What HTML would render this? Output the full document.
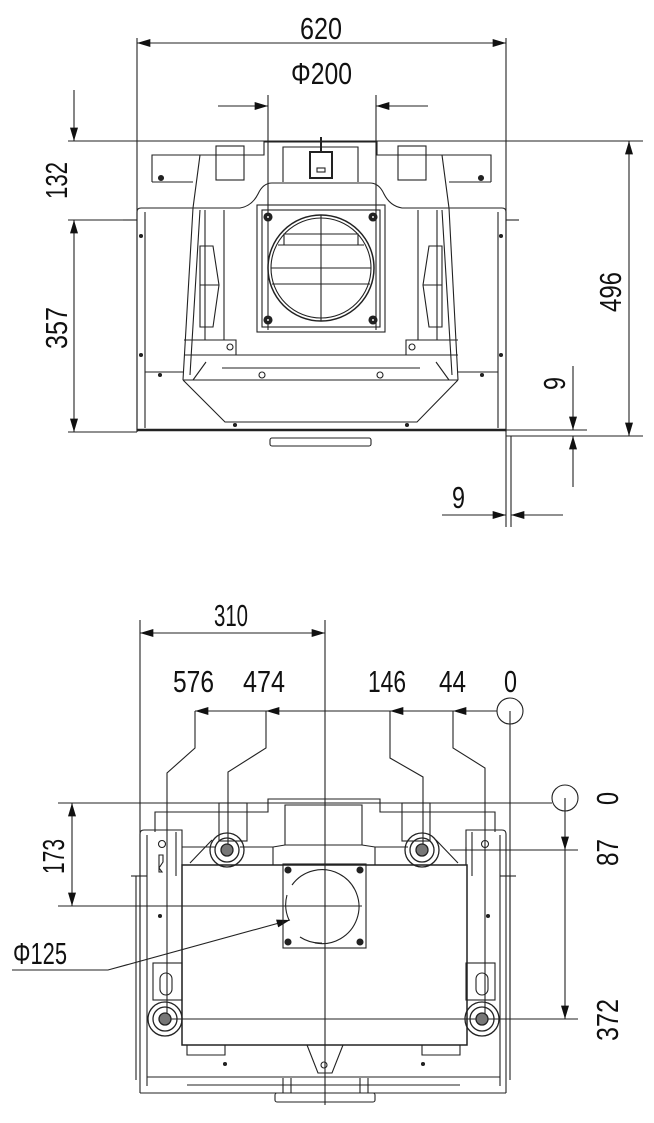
<!DOCTYPE html>
<html><head><meta charset="utf-8"><style>
html,body{margin:0;padding:0;background:#fff;}
svg{display:block;}
text{font-family:"Liberation Sans",sans-serif;font-size:31px;fill:#111;}
</style></head><body>
<svg width="654" height="1123" viewBox="0 0 654 1123" xmlns="http://www.w3.org/2000/svg">
<defs>
<marker id="a" viewBox="0 0 10 6" refX="10" refY="3" markerWidth="22" markerHeight="8" markerUnits="userSpaceOnUse" orient="auto-start-reverse"><path d="M0,0 L10,3 L0,6 Z" fill="#111"/></marker>
</defs>
<g stroke="#222" stroke-width="1.1" fill="none">
<!-- ===== TOP DIMENSIONS ===== -->
<line x1="137" y1="38" x2="137" y2="432"/>
<line x1="506" y1="38" x2="506" y2="527"/>
<line x1="137" y1="43" x2="506" y2="43" marker-start="url(#a)" marker-end="url(#a)"/>
<line x1="268" y1="95" x2="268" y2="330"/>
<line x1="376" y1="95" x2="376" y2="330"/>
<line x1="218" y1="106" x2="268" y2="106" marker-end="url(#a)"/>
<line x1="428" y1="106" x2="376" y2="106" marker-end="url(#a)"/>
<line x1="68" y1="141" x2="643" y2="141"/>
<line x1="74" y1="90" x2="74" y2="141" marker-end="url(#a)"/>
<line x1="74" y1="220" x2="74" y2="432" marker-start="url(#a)" marker-end="url(#a)"/>
<line x1="68" y1="220" x2="137" y2="220"/>
<line x1="68" y1="432" x2="137" y2="432"/>
<line x1="629" y1="141" x2="629" y2="436" marker-start="url(#a)" marker-end="url(#a)"/>
<line x1="506" y1="436" x2="643" y2="436"/>
<line x1="506" y1="430" x2="587" y2="430"/>
<line x1="573" y1="366" x2="573" y2="430" marker-end="url(#a)"/>
<line x1="573" y1="487" x2="573" y2="436" marker-end="url(#a)"/>
<line x1="511" y1="436" x2="511" y2="527"/>
<line x1="442" y1="515" x2="506" y2="515" marker-end="url(#a)"/>
<line x1="563" y1="515" x2="511" y2="515" marker-end="url(#a)"/>

<!-- ===== TOP BODY ===== -->
<path d="M152,182 L152,155 L264,155 L264,142 L377,142 L377,155 L491,155 L491,182"/>
<rect x="216" y="146" width="28" height="34"/>
<rect x="398" y="146" width="28" height="34"/>
<path d="M283,182 L283,147 L358,147 L358,182"/>
<rect x="310" y="152" width="22" height="26" stroke-width="2"/>
<line x1="321" y1="137" x2="321" y2="152" stroke-width="2"/>
<rect x="317" y="168" width="8" height="4"/>
<path d="M152,182 L193,182 M449,182 L491,182"/>
<path d="M200,155 L193,208 M442,155 L449,208"/>
<path d="M137,432 L137,212 Q137,208 141,208 L193,208"/>
<path d="M506,432 L506,212 Q506,208 502,208 L449,208"/>
<line x1="145" y1="212" x2="145" y2="428"/>
<line x1="498" y1="212" x2="498" y2="428"/>
<line x1="137" y1="430" x2="506" y2="430" stroke-width="2.5"/>
<line x1="123" y1="220" x2="137" y2="220"/>
<line x1="506" y1="220" x2="519" y2="220"/>
<path d="M193,208 L240,208 Q252,206 258,194 Q263,183 272,183 L370,183 Q379,183 384,194 Q390,206 402,208 L449,208"/>
<path d="M193,208 L183,380 M449,208 L458,380"/>
<path d="M200,210 L190,375 M442,210 L452,375"/>
<line x1="205" y1="210" x2="205" y2="340"/>
<line x1="224" y1="210" x2="224" y2="340"/>
<line x1="418" y1="210" x2="418" y2="340"/>
<line x1="437" y1="210" x2="437" y2="340"/>
<path d="M200,246 L213,246 L219,285 L213,327 L200,327 Z"/>
<line x1="200" y1="285" x2="219" y2="285"/>
<path d="M442,246 L429,246 L423,285 L429,327 L442,327 Z"/>
<line x1="423" y1="285" x2="442" y2="285"/>
<rect x="257" y="205" width="128" height="127"/>
<rect x="262" y="210" width="118" height="117"/>
<circle cx="321" cy="268" r="53" stroke-width="1.5"/>
<circle cx="321" cy="268" r="50"/>
<line x1="271" y1="268" x2="371" y2="268"/>
<line x1="272" y1="284" x2="370" y2="284"/>
<line x1="321" y1="215" x2="321" y2="321"/>
<path d="M284,245 L284,234 L358,234 L358,245 M278,245 L364,245"/>
<g fill="#222"><circle cx="268" cy="217" r="4"/><circle cx="373" cy="217" r="4"/><circle cx="268" cy="320" r="4"/><circle cx="373" cy="320" r="4"/></g>
<g fill="#fff"><circle cx="268" cy="217" r="1.5"/><circle cx="373" cy="217" r="1.5"/><circle cx="268" cy="320" r="1.5"/><circle cx="373" cy="320" r="1.5"/></g>
<path d="M184,340 L236,340 L236,355 L184,355"/>
<path d="M458,340 L406,340 L406,355 L458,355"/>
<circle cx="230" cy="347" r="3"/><circle cx="412" cy="347" r="3"/>
<line x1="225" y1="355" x2="417" y2="355"/>
<line x1="222" y1="368" x2="420" y2="368"/>
<line x1="183" y1="380" x2="458" y2="380"/>
<path d="M193,380 L206,362 M449,380 L436,362"/>
<path d="M145,372 L183,372 M458,372 L498,372"/>
<path d="M183,380 L225,422 L417,422 L458,380"/>
<rect x="270" y="438" width="101" height="8" rx="2"/>
<g fill="#222">
<circle cx="141" cy="236" r="1.5"/><circle cx="141" cy="355" r="1.5"/><circle cx="501" cy="236" r="1.5"/><circle cx="501" cy="355" r="1.5"/>
<circle cx="160" cy="375" r="1.5"/><circle cx="482" cy="375" r="1.5"/><circle cx="235" cy="425" r="1.5"/><circle cx="407" cy="425" r="1.5"/>
<circle cx="161" cy="178" r="2.5"/><circle cx="481" cy="178" r="2.5"/>
</g>
<circle cx="262" cy="375" r="3"/><circle cx="380" cy="375" r="3"/>

<!-- ===== BOTTOM DIMENSIONS ===== -->
<line x1="140" y1="620" x2="140" y2="1000"/>
<line x1="325" y1="620" x2="325" y2="1105"/>
<line x1="140" y1="633" x2="325" y2="633" marker-start="url(#a)" marker-end="url(#a)"/>
<line x1="497" y1="711" x2="195" y2="711" marker-end="url(#a)"/>
<line x1="497" y1="711" x2="266" y2="711" marker-end="url(#a)"/>
<line x1="497" y1="711" x2="390" y2="711" marker-end="url(#a)"/>
<line x1="497" y1="711" x2="453" y2="711" marker-end="url(#a)"/>
<ellipse cx="510" cy="711" rx="13" ry="13"/>
<line x1="510" y1="711" x2="510" y2="1000"/>
<polyline points="195,711 195,748 167,773 167,1020"/>
<polyline points="266,711 266,748 228,772 228,852"/>
<polyline points="390,711 390,758 423,777 423,852"/>
<polyline points="453,711 453,748 485,768 485,1020"/>
<line x1="58" y1="803" x2="552" y2="803"/>
<circle cx="565" cy="798" r="13"/>
<line x1="565" y1="798" x2="565" y2="850" marker-end="url(#a)"/>
<line x1="565" y1="850" x2="565" y2="1019" marker-end="url(#a)"/>
<line x1="450" y1="850" x2="578" y2="850"/>
<line x1="160" y1="1019" x2="578" y2="1019"/>
<line x1="72" y1="803" x2="72" y2="906" marker-start="url(#a)" marker-end="url(#a)"/>
<line x1="58" y1="906" x2="362" y2="906"/>
<polyline points="12,970 108,970 290,920" marker-end="url(#a)"/>

<!-- ===== BOTTOM BODY ===== -->
<path d="M155,832 L155,812 L268,812 L268,799 L380,799 L380,812 L495,812 L495,832"/>
<rect x="219" y="803" width="28" height="38"/>
<rect x="402" y="803" width="28" height="38"/>
<path d="M285,845 L285,805 L362,805 L362,845"/>
<path d="M140,1093 L140,834 Q140,830 144,830 L182,830 L182,865 M506,1093 L506,834 Q506,830 502,830 L466,830 L466,865"/>
<line x1="147" y1="835" x2="147" y2="1086"/>
<line x1="500" y1="835" x2="500" y2="1086"/>
<line x1="131" y1="876" x2="147" y2="876"/>
<line x1="500" y1="876" x2="516" y2="876"/>
<line x1="136" y1="876" x2="136" y2="1080"/>
<line x1="510" y1="876" x2="510" y2="1080"/>
<path d="M176,832 L176,876 M472,832 L472,876"/>
<rect x="182" y="865" width="285" height="180" stroke-width="1.5"/>
<path d="M182,865 L273,865 L273,847 L240,847 M375,865 L375,847 L408,847 M466,865 L466,847 M182,847 L215,847"/>
<path d="M190,863 L212,840 M458,863 L436,840"/>
<path d="M273,847 L285,845 L362,845 L375,847"/>
<rect x="283" y="864" width="83" height="84"/>
<path d="M292,885 A37,37 0 1 1 315,943 M287,895 A37,37 0 0 0 289,920 M300,937 A37,37 0 0 0 322,943" />
<g fill="#222"><circle cx="288" cy="870" r="3"/><circle cx="360" cy="870" r="3"/><circle cx="288" cy="942" r="3"/><circle cx="360" cy="942" r="3"/></g>
<g stroke-width="1.3">
<circle cx="227" cy="850" r="17"/><circle cx="227" cy="850" r="12"/><circle cx="227" cy="850" r="6" fill="#777"/>
<circle cx="422" cy="850" r="17"/><circle cx="422" cy="850" r="12"/><circle cx="422" cy="850" r="6" fill="#777"/>
<circle cx="165" cy="1019" r="17"/><circle cx="165" cy="1019" r="12"/><circle cx="165" cy="1019" r="6" fill="#777"/>
<circle cx="482" cy="1019" r="17"/><circle cx="482" cy="1019" r="12"/><circle cx="482" cy="1019" r="6" fill="#777"/>
</g>
<rect x="153" y="963" width="29" height="37"/>
<rect x="160" y="973" width="12" height="22" rx="6"/>
<rect x="466" y="963" width="29" height="37"/>
<rect x="476" y="973" width="12" height="22" rx="6"/>
<circle cx="162" cy="844" r="3.5"/><circle cx="485" cy="844" r="3.5"/>
<path d="M159,855 L163,855 L163,862 L159,868 L162,872 L159,872 Z"/>
<path d="M187,1045 L187,1055 L225,1055 L225,1045 M422,1045 L422,1055 L460,1055 L460,1045"/>
<path d="M307,1045 L318,1073 L332,1073 L343,1045"/>
<circle cx="324" cy="1065" r="3"/>
<line x1="147" y1="1077" x2="500" y2="1077"/>
<line x1="187" y1="1085" x2="460" y2="1085"/>
<path d="M140,1093 L506,1093"/>
<rect x="275" y="1093" width="100" height="9" rx="2"/>
<path d="M283,1078 L283,1093 M291,1078 L291,1093 M360,1078 L360,1093 M368,1078 L368,1093"/>
<g fill="#222"><circle cx="160" cy="916" r="1.5"/><circle cx="488" cy="916" r="1.5"/><circle cx="225" cy="1064" r="1.5"/><circle cx="423" cy="1064" r="1.5"/></g>
</g>

<!-- ===== TEXT ===== -->
<text x="300" y="39" textLength="42" lengthAdjust="spacingAndGlyphs">620</text>
<text x="291" y="84" textLength="61" lengthAdjust="spacingAndGlyphs">Φ200</text>
<text transform="translate(67,199) rotate(-90)" textLength="37" lengthAdjust="spacingAndGlyphs">132</text>
<text transform="translate(67,349) rotate(-90)" textLength="42" lengthAdjust="spacingAndGlyphs">357</text>
<text transform="translate(621,312) rotate(-90)" textLength="40" lengthAdjust="spacingAndGlyphs">496</text>
<text transform="translate(565,390) rotate(-90)" textLength="13" lengthAdjust="spacingAndGlyphs">9</text>
<text x="452" y="508" textLength="13" lengthAdjust="spacingAndGlyphs">9</text>
<text x="214" y="626" textLength="34" lengthAdjust="spacingAndGlyphs">310</text>
<text x="173" y="692" textLength="41" lengthAdjust="spacingAndGlyphs">576</text>
<text x="243" y="692" textLength="42" lengthAdjust="spacingAndGlyphs">474</text>
<text x="368" y="692" textLength="38" lengthAdjust="spacingAndGlyphs">146</text>
<text x="439" y="692" textLength="27" lengthAdjust="spacingAndGlyphs">44</text>
<text x="504" y="692" textLength="13" lengthAdjust="spacingAndGlyphs">0</text>
<text transform="translate(618,805) rotate(-90)" textLength="13" lengthAdjust="spacingAndGlyphs">0</text>
<text transform="translate(618,866) rotate(-90)" textLength="27" lengthAdjust="spacingAndGlyphs">87</text>
<text transform="translate(618,1041) rotate(-90)" textLength="42" lengthAdjust="spacingAndGlyphs">372</text>
<text transform="translate(64,874) rotate(-90)" textLength="35" lengthAdjust="spacingAndGlyphs">173</text>
<text x="13" y="964" textLength="54" lengthAdjust="spacingAndGlyphs">Φ125</text>
</svg>
</body></html>
